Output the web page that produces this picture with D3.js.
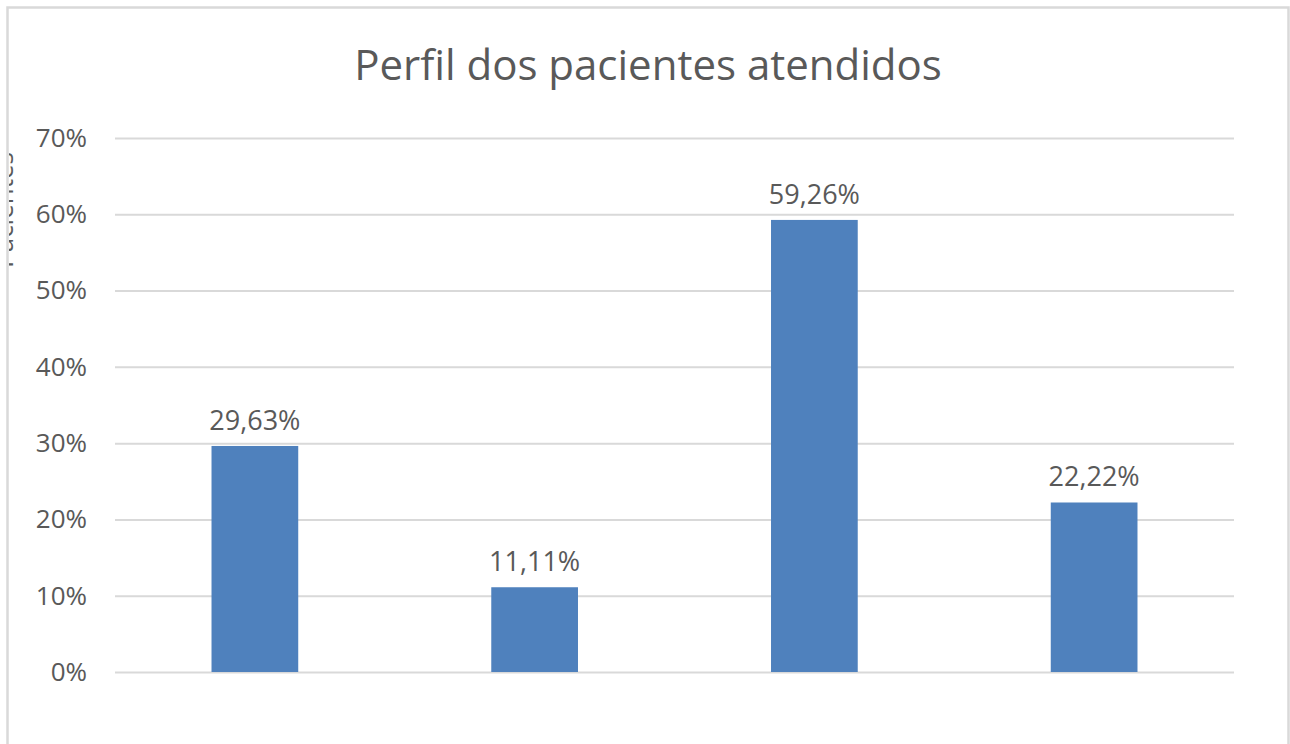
<!DOCTYPE html>
<html lang="pt">
<head>
    <meta charset="UTF-8">
    <title>Perfil dos pacientes atendidos</title>
    <script src="https://cdn.jsdelivr.net/npm/d3@7"></script>
    <style>
        body {
            margin: 0;
            background: #ffffff;
        }
        svg text {
            font-family: "Open Sans", "Liberation Sans", sans-serif;
            fill: #595959;
        }
        .grid line {
            stroke: #d9d9d9;
            stroke-width: 2;
        }
    </style>
</head>
<body>
<svg id="chart" width="1290" height="744"></svg>
<script>
    // data
    const categories = ["A", "B", "C", "D"];
    const values = [0.2963, 0.1111, 0.5926, 0.2222];
    const labels = ["29,63%", "11,11%", "59,26%", "22,22%"];
    const tickValues = [0, 0.1, 0.2, 0.3, 0.4, 0.5, 0.6, 0.7];
    const tickLabels = ["0%", "10%", "20%", "30%", "40%", "50%", "60%", "70%"];

    const width = 1290;
    const height = 744;
    const margin = {top: 138, right: 56, bottom: 72, left: 115};

    const svg = d3.select("#chart");

    // chart area border (bottom edge sits below the photo)
    svg.append("defs").append("clipPath")
        .attr("id", "area")
      .append("rect")
        .attr("x", 9)
        .attr("y", 9)
        .attr("width", 1278)
        .attr("height", 760);

    svg.append("rect")
        .attr("x", 7.5)
        .attr("y", 7.5)
        .attr("width", 1281)
        .attr("height", 780)
        .attr("fill", "#ffffff")
        .attr("stroke", "#d9d9d9")
        .attr("stroke-width", 2.5);

    const x = d3.scaleBand()
        .domain(categories)
        .range([margin.left, width - margin.right])
        .paddingInner(0.69)
        .paddingOuter(0.345);

    const y = d3.scaleLinear()
        .domain([0, 0.7])
        .range([height - margin.bottom, margin.top]);

    // gridlines + tick labels
    const yAxis = d3.axisLeft(y)
        .tickValues(tickValues)
        .tickFormat((d, i) => tickLabels[i])
        .tickSizeInner(-(width - margin.right - margin.left))
        .tickSizeOuter(0)
        .tickPadding(28);

    const gy = svg.append("g")
        .attr("class", "grid")
        .attr("transform", `translate(${margin.left},0)`)
        .call(yAxis);
    gy.select(".domain").remove();
    gy.selectAll("text")
        .style("font-size", "26px")
        .attr("fill", "#595959");

    // bars
    svg.append("g")
        .selectAll("rect")
        .data(values)
        .join("rect")
        .attr("x", (d, i) => x(categories[i]))
        .attr("y", d => y(d))
        .attr("width", x.bandwidth())
        .attr("height", d => y(0) - y(d))
        .attr("fill", "#4f81bd");

    // data labels
    svg.append("g")
        .selectAll("text")
        .data(values)
        .join("text")
        .attr("x", (d, i) => x(categories[i]) + x.bandwidth() / 2)
        .attr("y", d => y(d) - 16)
        .attr("text-anchor", "middle")
        .style("font-size", "27px")
        .text((d, i) => labels[i]);

    // title
    svg.append("text")
        .attr("x", 648)
        .attr("y", 80)
        .attr("text-anchor", "middle")
        .style("font-size", "42px")
        .text("Perfil dos pacientes atendidos");

    // axis title, mostly cut off at the left edge
    svg.append("g")
        .attr("clip-path", "url(#area)")
      .append("text")
        .attr("transform", "translate(13,210) rotate(-90)")
        .attr("text-anchor", "middle")
        .style("font-size", "26px")
        .text("Pacientes");
</script>
</body>
</html>
